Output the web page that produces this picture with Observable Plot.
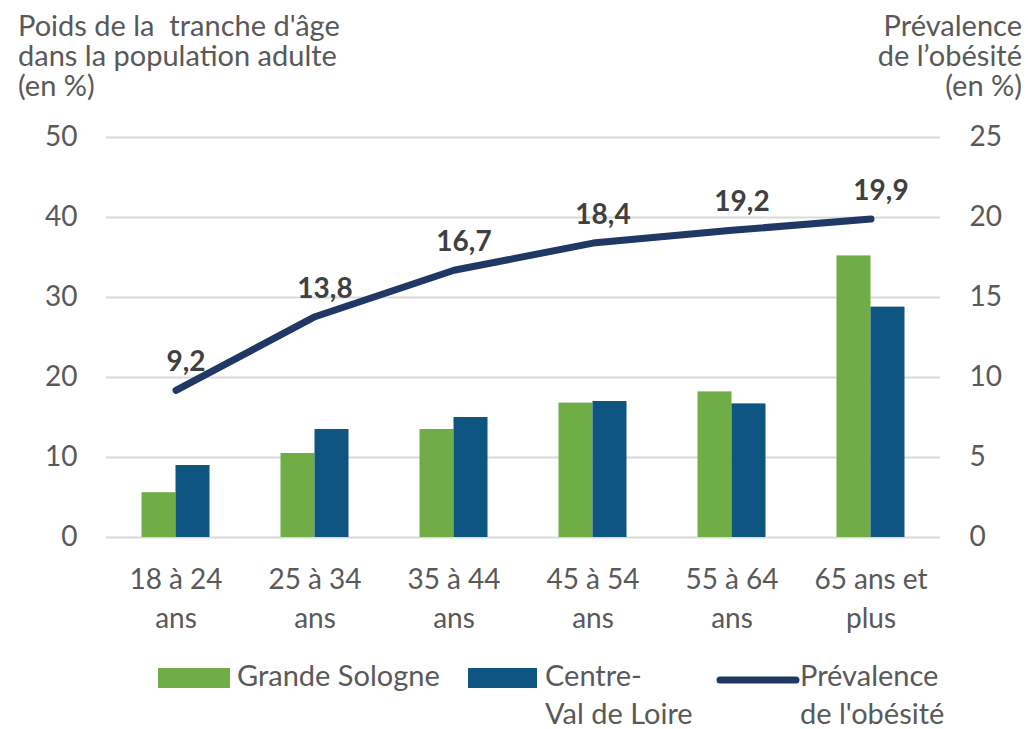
<!DOCTYPE html>
<html lang="fr">
<head>
<meta charset="utf-8">
<script src="https://cdn.jsdelivr.net/npm/d3@7"></script>
<script src="https://cdn.jsdelivr.net/npm/@observablehq/plot@0.6"></script>
<style>
  html, body { margin: 0; padding: 0; background: #fff; }
  #wrap { position: relative; width: 1028px; height: 729px; font-family: Lato, "Open Sans", sans-serif; color: #595959; overflow: hidden; }
  #chart { position: absolute; left: 0; top: 0; }
  .title { position: absolute; font-size: 29px; line-height: 30px; white-space: pre; }
  .leg { position: absolute; font-size: 29px; line-height: 38px; white-space: pre; }
  .sw { position: absolute; }
</style>
</head>
<body>
<div id="wrap">
  <div id="chart"></div>
  <div class="title" id="tl" style="left:18px; top:10px; text-align:left;"></div>
  <div class="title" id="tr" style="right:6px; top:10px; text-align:right;"></div>
  <div id="legend"></div>
</div>
<script>
// ---- data ----
const categories = ["18 à 24 ans", "25 à 34 ans", "35 à 44 ans", "45 à 54 ans", "55 à 64 ans", "65 ans et plus"];
const tickLabels = ["18 à 24\nans", "25 à 34\nans", "35 à 44\nans", "45 à 54\nans", "55 à 64\nans", "65 ans et\nplus"];
const grandeSologne = [5.6, 10.5, 13.5, 16.8, 18.2, 35.2];
const centreVdL = [9.0, 13.5, 15.0, 17.0, 16.7, 28.8];
const prevalence = [9.2, 13.8, 16.7, 18.4, 19.2, 19.9];
const leftTicks = [0, 10, 20, 30, 40, 50];
const rightTicks = [0, 5, 10, 15, 20, 25];
const seriesNames = ["Grande Sologne", "Centre-\nVal de Loire", "Prévalence\nde l'obésité"];
const leftTitle = "Poids de la  tranche d'âge\ndans la population adulte\n(en %)";
const rightTitle = "Prévalence\nde l’obésité\n(en %)";

// ---- styles ----
const GREEN = "#70ad47", BLUE = "#0f5581", NAVY = "#1f3864", GRAY = "#595959", GRID = "#d9d9d9";
const ratio = leftTicks[leftTicks.length - 1] / rightTicks[rightTicks.length - 1];

const gsData = categories.map((c, i) => ({cat: c, v: grandeSologne[i]}));
const cvData = categories.map((c, i) => ({cat: c, v: centreVdL[i]}));
const prData = categories.map((c, i) => ({cat: c, v: prevalence[i]}));
const labelOf = new Map(categories.map((c, i) => [c, tickLabels[i]]));

const W = 1028, H = 729, mL = 106, mR = 88, mT = 137, mB = 192;
const bw = (W - mL - mR) / categories.length;
const barW = 34;

const chart = Plot.plot({
  width: W, height: H,
  marginLeft: mL, marginRight: mR, marginTop: mT, marginBottom: mB,
  style: {fontFamily: "Lato, 'Open Sans', sans-serif", background: "transparent", overflow: "visible"},
  x: {type: "band", domain: categories, padding: 0, axis: null},
  y: {domain: [0, 50], axis: null},
  marks: [
    Plot.ruleY(leftTicks, {stroke: GRID, strokeWidth: 2}),
    Plot.barY(gsData, {x: "cat", y: "v", fill: GREEN, insetLeft: bw / 2 - barW, insetRight: bw / 2}),
    Plot.barY(cvData, {x: "cat", y: "v", fill: BLUE, insetLeft: bw / 2, insetRight: bw / 2 - barW}),
    Plot.line(prData, {x: "cat", y: d => d.v * ratio, stroke: NAVY, strokeWidth: 7, strokeLinecap: "round", strokeLinejoin: "round"}),
    Plot.text(prData, {x: "cat", y: d => d.v * ratio, text: d => String(d.v).replace(".", ","), dx: 10, dy: -28, fontSize: 28, fontWeight: "bold", fill: "#404040"}),
    Plot.axisY({ticks: leftTicks, label: null, tickSize: 0, tickPadding: 29, fontSize: 28, fill: GRAY}),
    Plot.axisY({anchor: "right", label: null, ticks: rightTicks.map(d => d * ratio), tickFormat: d => d / ratio, tickSize: 0, tickPadding: 29, fontSize: 28, fill: GRAY}),
    Plot.axisX({anchor: "bottom", label: null, tickFormat: d => labelOf.get(d), tickSize: 0, tickPadding: 24, fontSize: 28, lineHeight: 1.39, fill: GRAY})
  ]
});
document.getElementById("chart").appendChild(chart);

document.getElementById("tl").textContent = leftTitle;
document.getElementById("tr").textContent = rightTitle;

// ---- legend ----
const legend = document.getElementById("legend");
legend.innerHTML = `
  <div class="sw" style="left:158px; top:668px; width:72px; height:20px; background:${GREEN}"></div>
  <div class="leg" style="left:237px; top:656px;">${seriesNames[0]}</div>
  <div class="sw" style="left:468px; top:668px; width:69px; height:20px; background:${BLUE}"></div>
  <div class="leg" style="left:545px; top:656px;">${seriesNames[1]}</div>
  <svg class="sw" style="left:714px; top:672px;" width="86" height="16"><line x1="6" y1="8" x2="82" y2="8" stroke="${NAVY}" stroke-width="7" stroke-linecap="round"/></svg>
  <div class="leg" style="left:800px; top:656px;">${seriesNames[2]}</div>
`;
</script>
</body>
</html>
